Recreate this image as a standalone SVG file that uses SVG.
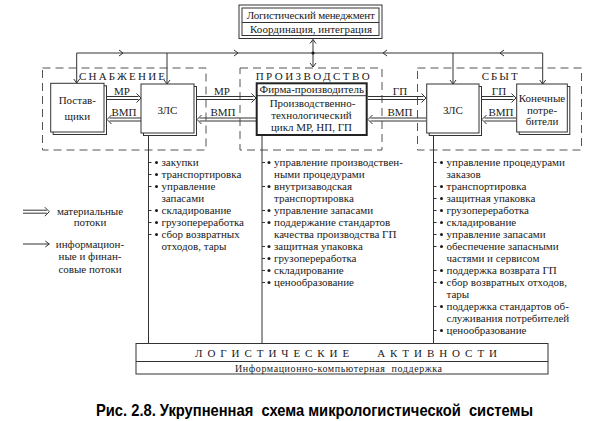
<svg xmlns="http://www.w3.org/2000/svg" width="611" height="421" viewBox="0 0 611 421">
<style>
.t{font-family:"Liberation Serif","Times New Roman",serif;font-size:11px;fill:#1a1a1a}
.c{text-anchor:middle}
.b{fill:#fff;stroke:#333;stroke-width:1}
.ln{fill:none;stroke:#333;stroke-width:1}
.dash{fill:none;stroke:#555;stroke-width:1;stroke-dasharray:8,5}
.dot{fill:#1a1a1a}
.cap{font-family:"Liberation Sans",Arial,sans-serif;font-size:16.5px;font-weight:bold;fill:#000}
</style>
<defs>
<path id="chR" class="ln" d="M-4,-3L0,0L-4,3"/>
<path id="chL" class="ln" d="M4,-3L0,0L4,3"/>
<path id="chD" class="ln" d="M-3,-4L0,0L3,-4"/>
</defs>
<rect width="611" height="421" fill="#fff"/>

<g id="mgmt">
<rect x="239" y="5" width="143" height="33.5" class="b"/>
<rect x="242" y="8" width="137" height="27.5" class="b"/>
<line x1="242" y1="22.5" x2="379" y2="22.5" class="ln"/>
<text class="t" x="246.7" y="19" textLength="128" lengthAdjust="spacing">Логистический менеджмент</text>
<text class="t" x="250" y="33" textLength="122" lengthAdjust="spacing">Координация, интеграция</text>
</g>

<g id="supply">
<rect x="42.5" y="68" width="163.5" height="82" class="dash"/>
<text class="t" x="79" y="79.5" textLength="86" lengthAdjust="spacing">СНАБЖЕНИЕ</text>
</g>
<g id="production">
<rect x="240" y="68" width="142" height="82" class="dash"/>
<text class="t" x="255.7" y="79.5" textLength="114" lengthAdjust="spacing">ПРОИЗВОДСТВО</text>
</g>
<g id="sales">
<rect x="417.5" y="68" width="164" height="82" class="dash"/>
<text class="t" x="481.7" y="79.5" textLength="36" lengthAdjust="spacing">СБЫТ</text>
</g>

<g id="connectors">
<path class="ln" d="M76.7,53H542.7M76.7,53V83M167,53V84M453,53V84M542.7,53V84"/>
<use href="#chR" x="123" y="53"/>
<use href="#chR" x="238" y="53"/>
<use href="#chL" x="383" y="53"/>
<use href="#chL" x="500" y="53"/>
<use href="#chD" x="76.7" y="83"/>
<use href="#chD" x="167" y="84"/>
<use href="#chD" x="453" y="84"/>
<use href="#chD" x="542.7" y="84"/>
<path class="ln" d="M313,39.5V67M310,43.5L313,39.5L316,43.5M310,63L313,67L316,63"/>
<circle cx="313" cy="53" r="1.6" class="dot"/>
<path class="ln" d="M107,96.5H138.5M107,99.5H138.5M136.5,93.5L141,98L136.5,102.5"/>
<path class="ln" d="M197,96.5H253.5M197,99.5H253.5M251.5,93.5L256,98L251.5,102.5"/>
<path class="ln" d="M368,96.5H423.5M368,99.5H423.5M421.5,93.5L426,98L421.5,102.5"/>
<path class="ln" d="M482,96.5H513.5M482,99.5H513.5M511.5,93.5L516,98L511.5,102.5"/>
<path class="ln" d="M141,118H109.5M141,121H109.5M111.5,115L107,119.5L111.5,124"/>
<path class="ln" d="M256,118H199.5M256,121H199.5M201.5,115L197,119.5L201.5,124"/>
<path class="ln" d="M426,118H370.5M426,121H370.5M372.5,115L368,119.5L372.5,124"/>
<path class="ln" d="M516,118H484.5M516,121H484.5M486.5,115L482,119.5L486.5,124"/>
<text class="t c" x="122" y="94.5">МР</text>
<text class="t c" x="222" y="94.5">МР</text>
<text class="t c" x="400" y="94.5">ГП</text>
<text class="t c" x="499" y="94.5">ГП</text>
<text class="t c" x="124" y="115.5">ВМП</text>
<text class="t c" x="223" y="115.5">ВМП</text>
<text class="t c" x="400" y="115.5">ВМП</text>
<text class="t c" x="501" y="115.5">ВМП</text>
<path class="ln" d="M148.5,136V343.5M262,135V343.5M433.5,136V343.5"/>
</g>

<g id="suppliers">
<rect x="53.2" y="85.8" width="53.3" height="48.7" class="b"/>
<rect x="50.7" y="83.3" width="53.3" height="48.7" class="b"/>
<text class="t c" x="77.3" y="104">Постав-</text>
<text class="t c" x="77.3" y="119.5">щики</text>
</g>
<g id="zls-supply">
<rect x="143.5" y="86.5" width="53" height="49" class="b"/>
<rect x="141" y="84" width="53" height="49" class="b"/>
<text class="t c" x="167.5" y="113.5">ЗЛС</text>
</g>
<g id="firm">
<rect x="256.7" y="83.3" width="110" height="51.7" fill="#fff" stroke="#222" stroke-width="2"/>
<line x1="256.7" y1="95.7" x2="366.7" y2="95.7" class="ln"/>
<text class="t c" x="311.7" y="93.3">Фирма-производитель</text>
<text class="t c" x="312.5" y="107">Производственно-</text>
<text class="t c" x="311.5" y="119">технологический</text>
<text class="t c" x="311.5" y="131">цикл МР, НП, ГП</text>
</g>
<g id="zls-sales">
<rect x="429.2" y="86.5" width="52.3" height="49" class="b"/>
<rect x="426.7" y="84" width="52.3" height="49" class="b"/>
<text class="t c" x="453" y="113.5">ЗЛС</text>
</g>
<g id="consumers">
<rect x="519.2" y="86.5" width="50.6" height="48" class="b"/>
<rect x="516.7" y="84" width="50.6" height="48" class="b"/>
<text class="t c" x="542" y="101.5">Конечные</text>
<text class="t c" x="542" y="113.5">потре-</text>
<text class="t c" x="542" y="125">бители</text>
</g>

<g id="list-supply">
<path class="ln" d="M148.5,162.5h3M148.5,174.5h3M148.5,186.5h3M148.5,210.5h3M148.5,222.5h3M148.5,234.5h3"/>
<g class="dot"><circle cx="156.5" cy="162.5" r="1.5"/><circle cx="156.5" cy="174.5" r="1.5"/><circle cx="156.5" cy="186.5" r="1.5"/><circle cx="156.5" cy="210.5" r="1.5"/><circle cx="156.5" cy="222.5" r="1.5"/><circle cx="156.5" cy="234.5" r="1.5"/></g>
<text class="t" x="161.5" y="166">закупки</text>
<text class="t" x="161.5" y="178">транспортировка</text>
<text class="t" x="161.5" y="190">управление</text>
<text class="t" x="161.5" y="202">запасами</text>
<text class="t" x="161.5" y="214">складирование</text>
<text class="t" x="161.5" y="226">грузопереработка</text>
<text class="t" x="161.5" y="238">сбор возвратных</text>
<text class="t" x="161.5" y="250">отходов, тары</text>
</g>

<g id="list-production">
<path class="ln" d="M262,162.5h3M262,186.5h3M262,210.5h3M262,222.5h3M262,246.5h3M262,258.5h3M262,270.5h3M262,282.5h3"/>
<g class="dot"><circle cx="269" cy="162.5" r="1.5"/><circle cx="269" cy="186.5" r="1.5"/><circle cx="269" cy="210.5" r="1.5"/><circle cx="269" cy="222.5" r="1.5"/><circle cx="269" cy="246.5" r="1.5"/><circle cx="269" cy="258.5" r="1.5"/><circle cx="269" cy="270.5" r="1.5"/><circle cx="269" cy="282.5" r="1.5"/></g>
<text class="t" x="274" y="166">управление производствен-</text>
<text class="t" x="274" y="178">ными процедурами</text>
<text class="t" x="274" y="190">внутризаводская</text>
<text class="t" x="274" y="202">транспортировка</text>
<text class="t" x="274" y="214">управление запасами</text>
<text class="t" x="274" y="226">поддержание стандартов</text>
<text class="t" x="274" y="238">качества производства ГП</text>
<text class="t" x="274" y="250">защитная упаковка</text>
<text class="t" x="274" y="262">грузопереработка</text>
<text class="t" x="274" y="274">складирование</text>
<text class="t" x="274" y="286">ценообразование</text>
</g>

<g id="list-sales">
<path class="ln" d="M433.5,162.5h3M433.5,186.5h3M433.5,198.5h3M433.5,210.5h3M433.5,222.5h3M433.5,234.5h3M433.5,246.5h3M433.5,270.5h3M433.5,282.5h3M433.5,306.5h3M433.5,330.5h3"/>
<g class="dot"><circle cx="441.5" cy="162.5" r="1.5"/><circle cx="441.5" cy="186.5" r="1.5"/><circle cx="441.5" cy="198.5" r="1.5"/><circle cx="441.5" cy="210.5" r="1.5"/><circle cx="441.5" cy="222.5" r="1.5"/><circle cx="441.5" cy="234.5" r="1.5"/><circle cx="441.5" cy="246.5" r="1.5"/><circle cx="441.5" cy="270.5" r="1.5"/><circle cx="441.5" cy="282.5" r="1.5"/><circle cx="441.5" cy="306.5" r="1.5"/><circle cx="441.5" cy="330.5" r="1.5"/></g>
<text class="t" x="446.5" y="166">управление процедурами</text>
<text class="t" x="446.5" y="178">заказов</text>
<text class="t" x="446.5" y="190">транспортировка</text>
<text class="t" x="446.5" y="202">защитная упаковка</text>
<text class="t" x="446.5" y="214">грузопереработка</text>
<text class="t" x="446.5" y="226">складирование</text>
<text class="t" x="446.5" y="238">управление запасами</text>
<text class="t" x="446.5" y="250">обеспечение запасными</text>
<text class="t" x="446.5" y="262">частями и сервисом</text>
<text class="t" x="446.5" y="274">поддержка возврата ГП</text>
<text class="t" x="446.5" y="286">сбор возвратных отходов,</text>
<text class="t" x="446.5" y="298">тары</text>
<text class="t" x="446.5" y="310">поддержка стандартов об-</text>
<text class="t" x="446.5" y="322">служивания потребителей</text>
<text class="t" x="446.5" y="334">ценообразование</text>
</g>

<g id="legend">
<path class="ln" d="M23,210.2H46.8M23,213.2H46.8M44.8,207.2L49.3,211.7L44.8,216.2"/>
<text class="t c" x="90" y="214.5">материальные</text>
<text class="t c" x="90" y="226">потоки</text>
<path class="ln" d="M23,244H49.3M45.3,241L49.3,244L45.3,247"/>
<text class="t c" x="90" y="247.5">информацион-</text>
<text class="t c" x="90" y="260">ные и финан-</text>
<text class="t c" x="90" y="272.5">совые потоки</text>
</g>

<g id="activities">
<rect x="136" y="343.5" width="412" height="30.5" class="b"/>
<line x1="136" y1="361.5" x2="548" y2="361.5" class="ln"/>
<text class="t" x="195" y="356.5" textLength="302" lengthAdjust="spacing" xml:space="preserve">ЛОГИСТИЧЕСКИЕ   АКТИВНОСТИ</text>
<text class="t" x="235" y="371.5" textLength="207" lengthAdjust="spacing" xml:space="preserve" style="font-size:10px">Информационно-компьютерная  поддержка</text>
</g>

<text class="cap" x="96" y="416" textLength="437" lengthAdjust="spacingAndGlyphs" xml:space="preserve">Рис. 2.8. Укрупненная  схема микрологистической  системы</text>
</svg>
